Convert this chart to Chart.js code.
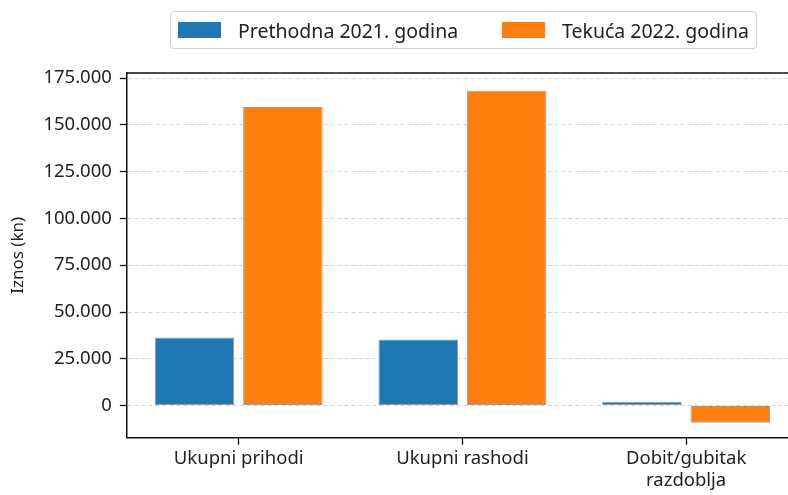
<!DOCTYPE html>
<html>
<head>
<meta charset="utf-8">
<script src="https://cdn.jsdelivr.net/npm/chart.js@4"></script>
<style>
  html, body { margin: 0; padding: 0; background: #fff; overflow: hidden; }
  #wrap { position: relative; width: 788px; height: 495px; overflow: hidden; }
  #legend {
    position: absolute; left: 170px; top: 11px; width: 587px; height: 38px;
    border: 1px solid #d0d0d0; border-radius: 4px; box-sizing: border-box;
    font-family: "Noto Sans", sans-serif; font-size: 19.5px; color: #222;
  }
  .item { position: absolute; top: 0; height: 36px; display: flex; align-items: center; white-space: nowrap; }
  .swatch { width: 43px; height: 16px; margin-right: 17px; box-sizing: border-box; }
</style>
</head>
<body>
<div id="wrap">
  <canvas id="chart" width="802" height="495" style="width:802px;height:495px"></canvas>
  <div id="legend"></div>
</div>
<script>
const categories = ['Ukupni prihodi', 'Ukupni rashodi', ['Dobit/gubitak', 'razdoblja']];
const prev2021 = [36400, 35300, 2000];
const curr2022 = [159600, 168200, -9100];
const yTicks = [0, 25000, 50000, 75000, 100000, 125000, 150000, 175000];

const fmt = v => String(v).replace(/\B(?=(\d{3})+(?!\d))/g, '.');
const FONT = '"Noto Sans", sans-serif';

// top spine (the right one falls outside the cropped figure)
const topSpine = {
  id: 'topSpine',
  afterDraw(chart) {
    const { ctx, chartArea: a } = chart;
    ctx.save();
    ctx.strokeStyle = '#111';
    ctx.lineWidth = 1.5;
    ctx.beginPath();
    ctx.moveTo(a.left, a.top);
    ctx.lineTo(a.right, a.top);
    ctx.stroke();
    ctx.restore();
  }
};

const chart = new Chart(document.getElementById('chart'), {
  type: 'bar',
  data: {
    labels: categories,
    datasets: [
      { label: 'Prethodna 2021. godina', data: prev2021, backgroundColor: '#1f77b4' },
      { label: 'Tekuća 2022. godina', data: curr2022, backgroundColor: '#ff7f0e' }
    ]
  },
  options: {
    responsive: false,
    animation: false,
    layout: { padding: { top: 73, right: 4, left: 8, bottom: 0 } },
    datasets: {
      bar: {
        categoryPercentage: 0.79,
        barPercentage: 0.9,
        borderColor: '#9a9a9a',
        borderWidth: 1,
        borderSkipped: false
      }
    },
    plugins: { legend: { display: false }, tooltip: { enabled: false } },
    scales: {
      x: {
        offset: true,
        grid: { offset: false, drawOnChartArea: false, drawTicks: true, tickLength: 7, tickColor: '#111', tickWidth: 1.3 },
        border: { color: '#111', width: 1.5 },
        ticks: { color: '#222', font: { family: FONT, size: 18.5 }, padding: 3, maxRotation: 0 }
      },
      y: {
        min: -17100,
        max: 177700,
        afterBuildTicks: s => { s.ticks = yTicks.map(v => ({ value: v })); },
        grid: { color: '#d4d4d4', lineWidth: 1, drawTicks: true, tickLength: 7, tickColor: '#111', tickWidth: 1.3, tickBorderDash: [] },
        border: { color: '#111', width: 1.5, dash: [4, 3] },
        ticks: { color: '#222', font: { family: FONT, size: 18.5 }, padding: 8, callback: v => fmt(v) },
        title: { display: true, text: 'Iznos (kn)', color: '#222', font: { family: FONT, size: 17 }, padding: { top: 0, bottom: 7 } }
      }
    }
  },
  plugins: [topSpine]
});

// legend box built from the datasets
const leg = document.getElementById('legend');
const itemLeft = [7, 331];
chart.data.datasets.forEach((ds, i) => {
  const it = document.createElement('div');
  it.className = 'item';
  it.style.left = itemLeft[i] + 'px';
  it.innerHTML = '<span class="swatch" style="background:' + ds.backgroundColor + '"></span><span>' + ds.label + '</span>';
  leg.appendChild(it);
});
</script>
</body>
</html>
